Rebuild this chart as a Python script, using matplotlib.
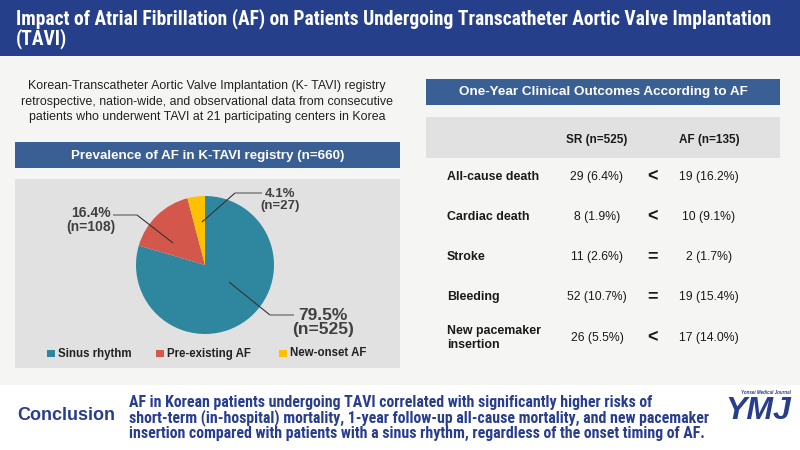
import matplotlib
matplotlib.use("Agg")
import matplotlib.pyplot as plt
from matplotlib.patches import Rectangle
from matplotlib.font_manager import fontManager

# ---------------- data ----------------
pie_labels = ["Sinus rhythm", "Pre-existing AF", "New-onset AF"]
pie_counts = [525, 108, 27]
pie_pcts = ["79.5%", "16.4%", "4.1%"]
pie_colors = ["#2e879e", "#d4574c", "#ffc000"]

outcomes = ["All-cause death", "Cardiac death", "Stroke", "Bleeding",
            "New pacemaker\ninsertion"]
sr_n = [29, 8, 11, 52, 26]
sr_pct = ["6.4%", "1.9%", "2.6%", "10.7%", "5.5%"]
af_n = [19, 10, 2, 19, 17]
af_pct = ["16.2%", "9.1%", "1.7%", "15.4%", "14.0%"]
compare = ["<", "<", "=", "=", "<"]
col_headers = ["SR (n=525)", "AF (n=135)"]

title_lines = ["Impact of Atrial Fibrillation (AF) on Patients Undergoing Transcatheter Aortic Valve Implantation",
               "(TAVI)"]
desc_lines = ["Korean-Transcatheter Aortic Valve Implantation (K- TAVI) registry",
              "retrospective, nation-wide, and observational data from consecutive",
              "patients who underwent TAVI at 21 participating centers in Korea"]
pie_title = "Prevalence of AF in K-TAVI registry (n=660)"
table_title = "One-Year Clinical Outcomes According to AF"
concl_lines = ["AF in Korean patients undergoing TAVI correlated with significantly higher risks of",
               "short-term (in-hospital) mortality, 1-year follow-up all-cause mortality, and new pacemaker",
               "insertion compared with patients with a sinus rhythm, regardless of the onset timing of AF."]

# ---------------- style ----------------
names = {f.name for f in fontManager.ttflist}
BASE = "Liberation Sans" if "Liberation Sans" in names else "DejaVu Sans"
NARROW = BASE
NARROW_STRETCH = "normal"
for cand in ["Liberation Sans Narrow", "Arial Narrow", "Roboto Condensed",
             "Open Sans Condensed", "Noto Sans Condensed"]:
    if cand in names:
        NARROW = cand
        break
else:
    cond = [f for f in fontManager.ttflist
            if f.name in ("Roboto", "Noto Sans", "Open Sans", "Liberation Sans")
            and str(f.stretch) in ("condensed", "semi-condensed", "75", "87.5")]
    if cond:
        NARROW = cond[0].name
        NARROW_STRETCH = "condensed"
plt.rcParams["font.family"] = [BASE, "DejaVu Sans"]

DARK = "#253f8a"
BOX = "#3a5f94"
PANEL = "#e1e1e1"
BG = "#f5f5f3"
NAVY = "#293d8e"

W, H = 800, 450
fig = plt.figure(figsize=(8, 4.5), dpi=100)
fig.patch.set_facecolor(BG)
ax = fig.add_axes([0, 0, 1, 1])
ax.set_xlim(0, W)
ax.set_ylim(H, 0)
ax.axis("off")
ax.set_zorder(1)

renderer = fig.canvas.get_renderer()


def fit(t, width):
    bb = t.get_window_extent(renderer=renderer)
    t.set_fontsize(t.get_fontsize() * width / bb.width)
    return t.get_fontsize()


def rect(a, x0, y0, x1, y1, color, z=0):
    a.add_patch(Rectangle((x0, y0), x1 - x0, y1 - y0, facecolor=color,
                          edgecolor="none", zorder=z))


# backgrounds
rect(ax, 0, 0, W, 56, DARK)
rect(ax, 0, 385, W, H, "white")
rect(ax, 15, 142, 400, 168, BOX)
rect(ax, 15, 179, 400, 368, PANEL)
rect(ax, 426, 79, 780, 105, BOX)
rect(ax, 426, 117, 780, 158, PANEL)

# title
t1 = ax.text(16, 19, title_lines[0], color="white", fontweight="bold",
             family=NARROW, fontstretch=NARROW_STRETCH, fontsize=12,
             ha="left", va="center", zorder=2)
fs = fit(t1, 758)
ax.text(16, 39, title_lines[1], color="white", fontweight="bold",
        family=NARROW, fontstretch=NARROW_STRETCH, fontsize=fs,
        ha="left", va="center", zorder=2)

# description
desc_y = [86, 101.5, 117]
td = ax.text(207, desc_y[1], desc_lines[1], color="#222222", fontsize=9,
             ha="center", va="center", zorder=2)
fs = fit(td, 373)
for y, s in zip([desc_y[0], desc_y[2]], [desc_lines[0], desc_lines[2]]):
    ax.text(207, y, s, color="#222222", fontsize=fs, ha="center",
            va="center", zorder=2)

# box headers
tp = ax.text(207.5, 155.5, pie_title, color="white", fontweight="bold",
             fontsize=10, ha="center", va="center", zorder=2)
fit(tp, 275)
tt = ax.text(603, 92.5, table_title, color="white", fontweight="bold",
             fontsize=10, ha="center", va="center", zorder=2)
fit(tt, 288)

# ---------------- pie ----------------
cx, cy, r = 205, 265, 69
pax = fig.add_axes([(cx - r) / W, 1 - (cy + r) / H, 2 * r / W, 2 * r / H])
pax.set_zorder(2)
pax.pie(pie_counts, colors=pie_colors, startangle=90, counterclock=False,
        radius=1, wedgeprops=dict(linewidth=0))
pax.set_xlim(-1, 1)
pax.set_ylim(-1, 1)
pax.set_aspect("equal")
pax.axis("off")

ov = fig.add_axes([0, 0, 1, 1])
ov.set_xlim(0, W)
ov.set_ylim(H, 0)
ov.axis("off")
ov.set_zorder(3)
ov.patch.set_alpha(0)

LBL = "#404040"
# leader lines (annotation layout): diagonal dark part, horizontal grey part
diag = [[(229, 282), (270, 315)],
        [(173, 243), (137, 215)],
        [(202, 222), (235, 193)]]
horiz = [[(270, 315), (294, 315)],
         [(137, 215), (113, 215)],
         [(235, 193), (262, 193)]]
for pts in diag:
    xs, ys = zip(*pts)
    ov.plot(xs, ys, color="#333333", lw=0.8, solid_capstyle="butt")
for pts in horiz:
    xs, ys = zip(*pts)
    ov.plot(xs, ys, color="#888888", lw=1.2, solid_capstyle="butt")

label_pos = [(323, 315, 329.5, 12.5),
             (91, 213, 227, 10),
             (280, 194, 206, 9.5)]
for (x, y1, y2, fsz), pct, n in zip(label_pos, pie_pcts, pie_counts):
    ov.text(x, y1, pct, color=LBL, fontsize=fsz, fontweight="bold",
            ha="center", va="center")
    ov.text(x, y2, f"(n={n})", color=LBL, fontsize=fsz, fontweight="bold",
            ha="center", va="center")

# legend
leg_x = [47, 156, 279]
for x, c, lab in zip(leg_x, pie_colors, pie_labels):
    rect(ov, x, 349.5, x + 7.5, 357, c, z=2)
    ov.text(x + 11, 353.5, lab, color="#222222", fontsize=8.3,
            fontweight="bold", ha="left", va="center")

# ---------------- table ----------------
TXT = "#1a1a1a"
ax.text(597, 140, col_headers[0], color=TXT, fontsize=8.5, fontweight="bold",
        ha="center", va="center", zorder=2)
ax.text(709, 140, col_headers[1], color=TXT, fontsize=8.5, fontweight="bold",
        ha="center", va="center", zorder=2)
row_y = [177, 217, 257, 297, 338]
for y, lab, sn, sp, an, ap, cmp in zip(row_y, outcomes, sr_n, sr_pct,
                                       af_n, af_pct, compare):
    ax.text(447, y, lab, color=TXT, fontsize=8.9, fontweight="bold",
            ha="left", va="center", linespacing=1.3, zorder=2)
    ax.text(597, y, f"{sn} ({sp})", color=TXT, fontsize=8.8,
            ha="center", va="center", zorder=2)
    ax.text(709, y, f"{an} ({ap})", color=TXT, fontsize=8.8,
            ha="center", va="center", zorder=2)
    ax.text(652, y - 0.5, cmp, color=TXT, fontsize=13, fontweight="bold",
            ha="center", va="center", zorder=2)

# ---------------- conclusion ----------------
tc = ax.text(17, 416, "Conclusion", color=NAVY, fontsize=13,
             fontweight="bold", ha="left", va="center", zorder=2)
fit(tc, 98)
cy_lines = [403, 418, 433]
t3 = ax.text(129, cy_lines[2], concl_lines[2], color=NAVY, fontsize=9,
             fontweight="bold", family=NARROW, fontstretch=NARROW_STRETCH,
             ha="left", va="center", zorder=2)
fs = fit(t3, 579)
for y, s in zip(cy_lines[:2], concl_lines[:2]):
    ax.text(129, y, s, color=NAVY, fontsize=fs, fontweight="bold",
            family=NARROW, fontstretch=NARROW_STRETCH,
            ha="left", va="center", zorder=2)

# logo
ty = ax.text(766, 392, "Yonsei Medical Journal", color=NAVY, fontsize=3.6,
             fontweight="bold", style="italic", ha="center", va="center", zorder=2)
fit(ty, 50)
tl = ax.text(758, 411, "YMJ", color=NAVY, fontsize=24, fontweight="bold",
             style="italic", ha="center", va="center", zorder=2)
fit(tl, 66)

fig.savefig("out.png", dpi=100, facecolor=fig.get_facecolor())
